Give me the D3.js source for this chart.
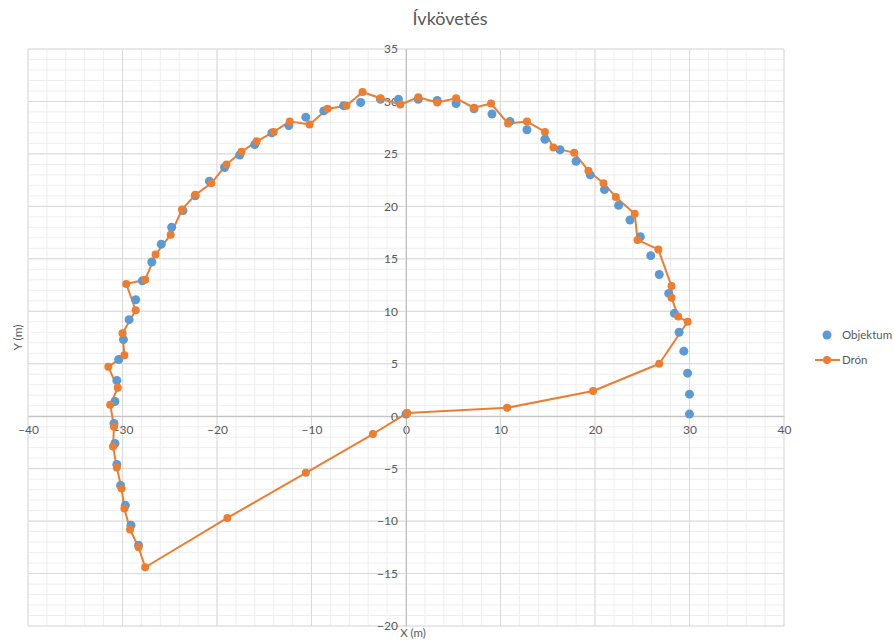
<!DOCTYPE html>
<html>
<head>
<meta charset="utf-8">
<script src="https://cdn.jsdelivr.net/npm/d3@7"></script>
<style>
  html, body { margin: 0; padding: 0; background: #fff; }
  svg text { font-family: Lato, "Open Sans", sans-serif; fill: #595959; }
</style>
</head>
<body>
<svg id="chart" width="894" height="641"></svg>
<script>
const chartTitle = "Ívkövetés";
const xLabel = "X (m)";
const yLabel = "Y (m)";
const seriesNames = ["Objektum", "Drón"];
const xTicks = [-40, -30, -20, -10, 0, 10, 20, 30, 40];
const yTicks = [-20, -15, -10, -5, 0, 5, 10, 15, 20, 25, 30, 35];

// Objektum (target) points
const objX = [0, 30.0, 30.0, 29.8, 29.4, 28.9, 28.4, 27.8, 26.8, 25.9, 24.8, 23.7, 22.5, 21.0, 19.5, 18.0, 16.3, 14.7, 12.8, 11.0, 9.1, 7.2, 5.3, 3.3, 1.3, -0.8, -2.7, -4.8, -6.6, -8.7, -10.6, -12.4, -14.2, -16.0, -17.6, -19.2, -20.8, -22.3, -23.6, -24.8, -25.9, -26.9, -27.9, -28.6, -29.3, -29.9, -30.4, -30.6, -30.8, -30.9, -30.8, -30.6, -30.2, -29.7, -29.1, -28.3];
const objY = [0.2, 0.2, 2.1, 4.1, 6.2, 8.0, 9.8, 11.7, 13.5, 15.3, 17.1, 18.7, 20.1, 21.6, 23.0, 24.3, 25.4, 26.4, 27.3, 28.1, 28.8, 29.3, 29.8, 30.1, 30.2, 30.2, 30.2, 29.9, 29.6, 29.1, 28.5, 27.7, 27.0, 25.9, 24.9, 23.7, 22.4, 21.0, 19.6, 18.0, 16.4, 14.7, 12.9, 11.1, 9.2, 7.3, 5.4, 3.4, 1.4, -0.7, -2.6, -4.6, -6.6, -8.5, -10.4, -12.3];

// Drón (drone) path
const dronX = [0.1, 10.7, 19.8, 26.8, 29.8, 28.8, 28.1, 28.1, 26.7, 24.5, 24.2, 22.2, 20.9, 19.3, 17.8, 15.6, 14.7, 12.8, 10.8, 9.0, 7.2, 5.3, 3.3, 1.3, -0.6, -2.7, -4.6, -6.3, -8.3, -10.2, -12.3, -14.0, -15.8, -17.4, -19.0, -20.6, -22.3, -23.7, -24.9, -26.5, -27.6, -29.6, -28.6, -30.0, -29.8, -31.5, -30.5, -31.3, -30.9, -31.0, -30.6, -30.1, -29.8, -29.2, -28.3, -27.6, -18.9, -10.6, -3.5, 0.1];
const dronY = [0.3, 0.8, 2.4, 5.0, 9.0, 9.5, 11.3, 12.4, 15.9, 16.8, 19.3, 20.9, 22.2, 23.4, 25.1, 25.6, 27.1, 28.1, 27.9, 29.8, 29.4, 30.3, 29.9, 30.4, 29.7, 30.3, 30.9, 29.6, 29.3, 27.8, 28.1, 27.1, 26.2, 25.2, 24.0, 22.2, 21.1, 19.7, 17.3, 15.4, 13.0, 12.6, 10.1, 7.9, 5.8, 4.7, 2.7, 1.1, -1.0, -2.9, -4.9, -6.9, -8.8, -10.8, -12.5, -14.4, -9.7, -5.4, -1.7, 0.3];

const colors = { obj: "#5B9BD5", dron: "#ED7D31" };

const svg = d3.select("#chart");
const x = d3.scaleLinear().domain([-40, 40]).range([28, 784]);
const y = d3.scaleLinear().domain([-20, 35]).range([626, 49]);

// minor gridlines
const g = svg.append("g");
g.selectAll("line.mx").data(d3.range(-40, 41, 2)).join("line")
  .attr("x1", d => x(d)).attr("x2", d => x(d)).attr("y1", y(35)).attr("y2", y(-20))
  .attr("stroke", "#eeeeee").attr("stroke-width", 1);
g.selectAll("line.my").data(d3.range(-20, 36, 1)).join("line")
  .attr("x1", x(-40)).attr("x2", x(40)).attr("y1", d => y(d)).attr("y2", d => y(d))
  .attr("stroke", "#eeeeee").attr("stroke-width", 1);
// major gridlines
g.selectAll("line.Mx").data(xTicks).join("line")
  .attr("x1", d => x(d)).attr("x2", d => x(d)).attr("y1", y(35)).attr("y2", y(-20))
  .attr("stroke", "#d9d9d9").attr("stroke-width", 1);
g.selectAll("line.My").data(yTicks).join("line")
  .attr("x1", x(-40)).attr("x2", x(40)).attr("y1", d => y(d)).attr("y2", d => y(d))
  .attr("stroke", "#d9d9d9").attr("stroke-width", 1);

// axes through origin
const xAxis = svg.append("g").attr("transform", `translate(0,${y(0)})`)
  .call(d3.axisBottom(x).tickValues(xTicks).tickSize(0).tickPadding(9));
const yAxis = svg.append("g").attr("transform", `translate(${x(0)},0)`)
  .call(d3.axisLeft(y).tickValues(yTicks).tickSize(0).tickPadding(8));
[xAxis, yAxis].forEach(a => {
  a.select(".domain").attr("stroke", "#bfbfbf").attr("stroke-width", 1);
  a.selectAll("text").style("font-size", "12px").attr("fill", "#595959");
});

// Drón line
svg.append("path")
  .datum(d3.range(dronX.length))
  .attr("fill", "none").attr("stroke", colors.dron).attr("stroke-width", 2)
  .attr("stroke-linejoin", "round")
  .attr("d", d3.line().x(i => x(dronX[i])).y(i => y(dronY[i])));

// Objektum markers (drawn before drone markers)
svg.append("g").selectAll("circle").data(d3.range(objX.length)).join("circle")
  .attr("cx", i => x(objX[i])).attr("cy", i => y(objY[i])).attr("r", 4.5)
  .attr("fill", colors.obj);

svg.append("g").selectAll("circle").data(d3.range(dronX.length)).join("circle")
  .attr("cx", i => x(dronX[i])).attr("cy", i => y(dronY[i])).attr("r", 4)
  .attr("fill", colors.dron);

// title
svg.append("text").attr("x", 450).attr("y", 25).attr("text-anchor", "middle")
  .style("font-size", "18px").text(chartTitle);
// axis titles
svg.append("text").attr("x", 413).attr("y", 637).attr("text-anchor", "middle")
  .style("font-size", "11.5px").text(xLabel);
svg.append("text").attr("transform", `translate(22,${(49 + 626) / 2}) rotate(-90)`)
  .attr("text-anchor", "middle").style("font-size", "12px").text(yLabel);

// legend
const leg = svg.append("g");
leg.append("circle").attr("cx", 827).attr("cy", 335).attr("r", 4.5).attr("fill", colors.obj);
leg.append("text").attr("x", 842).attr("y", 339).style("font-size", "11.5px").text(seriesNames[0]);
leg.append("line").attr("x1", 815).attr("x2", 840).attr("y1", 360).attr("y2", 360)
  .attr("stroke", colors.dron).attr("stroke-width", 2);
leg.append("circle").attr("cx", 827).attr("cy", 360).attr("r", 4).attr("fill", colors.dron);
leg.append("text").attr("x", 842).attr("y", 364).style("font-size", "11.5px").text(seriesNames[1]);
</script>
</body>
</html>
